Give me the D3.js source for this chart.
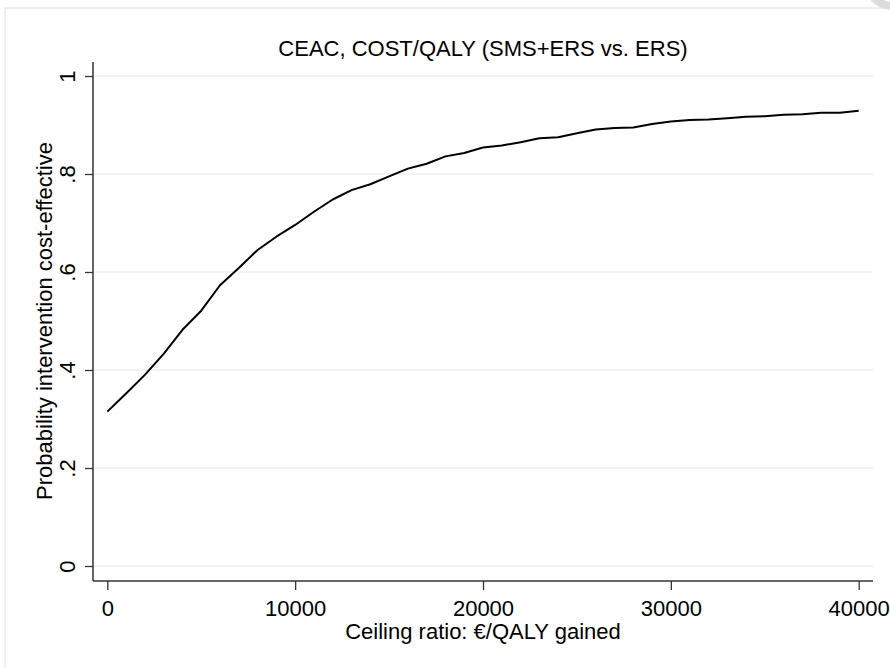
<!DOCTYPE html>
<html><head><meta charset="utf-8">
<script src="https://cdn.jsdelivr.net/npm/d3@7"></script>
<style>html,body{margin:0;padding:0;background:#fff;overflow:hidden}</style>
</head><body><div id="chart"></div>
<script>
const ceilingRatio = [0,1000,2000,3000,4000,5000,6000,7000,8000,9000,10000,11000,12000,13000,14000,15000,16000,17000,18000,19000,20000,21000,22000,23000,24000,25000,26000,27000,28000,29000,30000,31000,32000,33000,34000,35000,36000,37000,38000,39000,40000];
const probCE = [0.315,0.352,0.390,0.433,0.482,0.521,0.573,0.608,0.645,0.672,0.696,0.723,0.748,0.767,0.779,0.795,0.811,0.821,0.836,0.843,0.854,0.858,0.865,0.873,0.875,0.883,0.891,0.894,0.895,0.902,0.907,0.910,0.911,0.914,0.917,0.918,0.921,0.922,0.925,0.925,0.929];
const xTicks = [0,10000,20000,30000,40000];
const yTicks = [0,0.2,0.4,0.6,0.8,1];
const yTickLabels = ["0",".2",".4",".6",".8","1"];
const titleText = "CEAC, COST/QALY (SMS+ERS vs. ERS)";
const xTitle = "Ceiling ratio: \u20AC/QALY gained";
const yTitle = "Probability intervention cost-effective";

const W = 890, H = 668;
const font = "'Liberation Sans', Arial, sans-serif";
const svg = d3.select("#chart").append("svg").attr("width", W).attr("height", H)
  .style("font-family", font);

// outer frame (cropped)
svg.append("rect").attr("x", 5).attr("y", 8).attr("width", 900).attr("height", 700)
  .attr("fill", "#fff").attr("stroke", "#e6eced").attr("stroke-width", 1.5);
// corner artifact top-right
svg.append("circle").attr("cx", 893).attr("cy", -20).attr("r", 26)
  .attr("fill", "none").attr("stroke", "#dcdcdc").attr("stroke-width", 8);

const plot = {left: 93, right: 873, top: 62, bottom: 581};
const x = d3.scaleLinear().domain([0, 40000]).range([107.3, 858.7]);
const y = d3.scaleLinear().domain([0, 1]).range([566, 76]);

// gridlines
svg.append("g").selectAll("line").data(yTicks).join("line")
  .attr("x1", plot.left).attr("x2", plot.right)
  .attr("y1", d => y(d)).attr("y2", d => y(d))
  .attr("stroke", "#eaf2f3").attr("stroke-width", 1.6);

// line
const line = d3.line().x((d, i) => x(ceilingRatio[i])).y(d => y(d));
svg.append("path").datum(probCE).attr("d", line)
  .attr("fill", "none").attr("stroke", "#000").attr("stroke-width", 2)
  .attr("stroke-linejoin", "round");

// x axis
const xAxis = d3.axisBottom(x).tickValues(xTicks).tickFormat(d3.format("d"))
  .tickSize(9).tickSizeOuter(0).tickPadding(10);
const gx = svg.append("g").attr("transform", `translate(0,${plot.bottom})`).call(xAxis);
gx.select(".domain").remove();
gx.selectAll(".tick line").attr("stroke", "#333").attr("stroke-width", 1.3);
gx.selectAll(".tick text").attr("fill", "#000").style("font-size", "22px")
  .style("font-family", font).attr("dy", null).attr("y", 35);
svg.append("line").attr("x1", plot.left).attr("x2", plot.right)
  .attr("y1", plot.bottom).attr("y2", plot.bottom)
  .attr("stroke", "#333").attr("stroke-width", 1.5);

// y axis
const yAxis = d3.axisLeft(y).tickValues(yTicks).tickFormat((d, i) => yTickLabels[i])
  .tickSize(8).tickSizeOuter(0);
const gy = svg.append("g").attr("transform", `translate(${plot.left},0)`).call(yAxis);
gy.select(".domain").remove();
gy.selectAll(".tick line").attr("stroke", "#333").attr("stroke-width", 1.3);
gy.selectAll(".tick text").attr("fill", "#000").style("font-size", "22px")
  .style("font-family", font).attr("x", null).attr("dy", null)
  .attr("text-anchor", "middle")
  .attr("transform", `translate(${75 - plot.left},0) rotate(-90)`);
svg.append("line").attr("x1", plot.left).attr("x2", plot.left)
  .attr("y1", plot.top).attr("y2", plot.bottom)
  .attr("stroke", "#333").attr("stroke-width", 1.5);

// titles
svg.append("text").attr("x", 483).attr("y", 56).attr("text-anchor", "middle")
  .style("font-size", "22px").attr("fill", "#000").text(titleText);
svg.append("text").attr("x", 483).attr("y", 639).attr("text-anchor", "middle")
  .style("font-size", "22px").attr("fill", "#000").text(xTitle);
svg.append("text").attr("transform", "translate(52,321) rotate(-90)")
  .attr("text-anchor", "middle").style("font-size", "22px").attr("fill", "#000").text(yTitle);
</script>
</body></html>
